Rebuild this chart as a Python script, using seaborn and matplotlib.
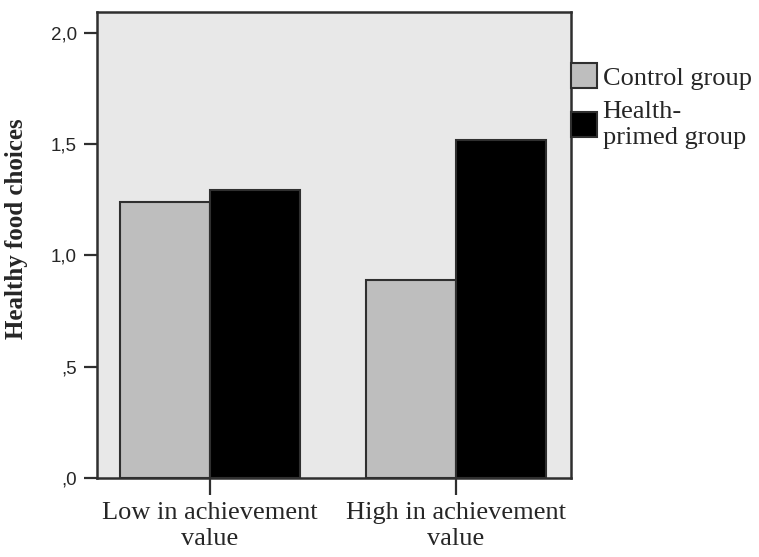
import matplotlib
matplotlib.use("Agg")
import matplotlib.pyplot as plt
import seaborn as sns
import pandas as pd

# Data
categories = ["Low in achievement\nvalue", "High in achievement\nvalue"]
groups = ["Control group", "Health-\nprimed group"]
control_values = [1.24, 0.89]
primed_values = [1.295, 1.52]
y_ticks = [0.0, 0.5, 1.0, 1.5, 2.0]
y_tick_labels = [",0", ",5", "1,0", "1,5", "2,0"]

df = pd.DataFrame({
    "category": categories * 2,
    "group": [groups[0]] * 2 + [groups[1]] * 2,
    "value": control_values + primed_values,
})

sns.set_style("white")
plt.rcParams["font.family"] = ["Liberation Serif", "DejaVu Serif"]

fig = plt.figure(figsize=(7.59, 5.57), dpi=100)
ax = fig.add_axes([97 / 759, 1 - 478 / 557, (571 - 97) / 759, (478 - 12) / 557])
ax.set_facecolor("#e8e8e8")

edge = "#2f2f2f"
sns.barplot(data=df, x="category", y="value", hue="group", order=categories,
            hue_order=groups, palette=["#bebebe", "#000000"], width=0.732,
            edgecolor=edge, linewidth=1.5, saturation=1, ax=ax, errorbar=None)

ax.set_xlim(-0.459, 1.467)
ax.set_ylim(0, 2.094)
ax.set_yticks(y_ticks)
ax.set_yticklabels(y_tick_labels, fontfamily="Liberation Sans", fontsize=13.5)
ax.set_xticks([0, 1])
ax.set_xticklabels(categories, fontsize=19, linespacing=1.2)
ax.tick_params(axis="y", direction="out", length=9.5, width=1.6, color=edge, pad=5, left=True)
ax.tick_params(axis="x", direction="out", length=12.5, width=1.6, color=edge, pad=5, bottom=True)
for s in ax.spines.values():
    s.set_visible(True)
    s.set_color(edge)
    s.set_linewidth(1.8)

ax.set_xlabel("")
ax.set_ylabel("Healthy food choices", fontsize=18, fontweight="bold")
ax.yaxis.set_label_coords(-0.145, 0.535)

handles, labels = ax.get_legend_handles_labels()
ax.legend(handles, labels, loc="upper left", bbox_to_anchor=(1.0, 0.89),
          frameon=False, fontsize=19, handlelength=1.0, handleheight=1.05,
          handletextpad=0.2, borderaxespad=0, borderpad=0, labelspacing=0.45)

fig.savefig("out.png", dpi=100)
